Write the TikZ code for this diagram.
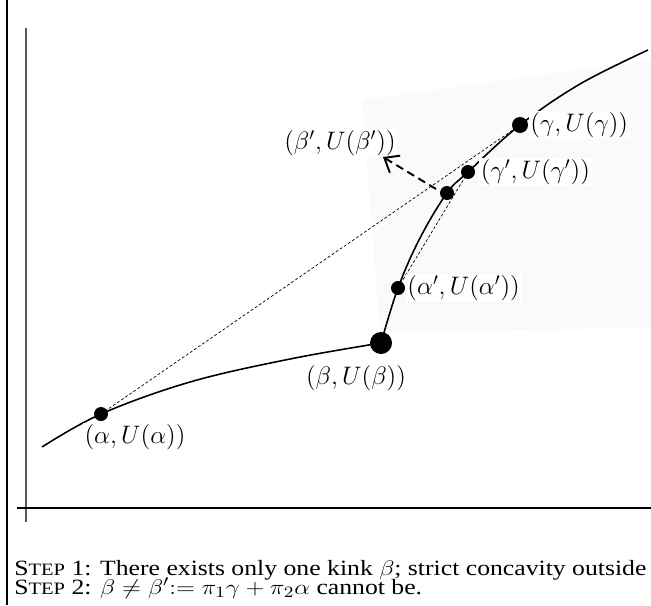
\documentclass[tikz,border=0pt]{standalone}
\usepackage{amsmath, amssymb}
\usepackage{fontspec}
\setmainfont{Liberation Serif}
\usetikzlibrary{arrows.meta, positioning}

\newcommand{\stepsc}[1]{S{\fontsize{9.9}{10}\selectfont TEP}~#1:}

\begin{document}
\begin{tikzpicture}[x=0.02cm, y=-0.02cm,
  dot/.style={circle, fill=black, inner sep=0pt, minimum size=#1},
  dot/.default=0.28cm,
  lbl/.style={fill=white, inner sep=1pt, font=\fontsize{14}{16}\selectfont},
  chord/.style={line width=0.4pt, dash pattern=on 1.6pt off 1.2pt},
  capline/.style={anchor=base west, inner sep=0pt, font=\fontsize{12.4}{12.4}\selectfont},
  curve/.style={line width=0.9pt}]
  \useasboundingbox (0,0) rectangle (651,605);

  % faint backdrop
  \fill[black!2] (362,100) -- (651,60) -- (651,328) -- (380,332) -- cycle;

  % === AXES ===
  \draw[line width=0.9pt] (7,0) -- (7,605);
  \draw[line width=0.8pt, gray!70!black] (26,28) -- (26,522);
  \draw[line width=0.8pt] (17,508) -- (651,508);

  % Graph of U, kink at beta
  \draw[curve] plot[smooth, tension=0.6] coordinates {(42,447) (101,414) (190,382) (290,359) (381,343)};
  \draw[curve] plot[smooth, tension=0.6] coordinates {(381,343) (398,288) (420,238) (447,193) (468,172) (520,125) (580,84) (648,50)};

  % points on the graph
  \node[dot] (a) at (101,414) {};
  \node[dot=0.44cm] (b) at (381,343) {};
  \node[dot] (ap) at (398,288) {};
  \node[dot] (m) at (447,193) {};
  \node[dot] (gp) at (468,172) {};
  \node[dot=0.32cm] (g) at (520,125) {};

  % chords
  \draw[chord] (a.center) -- (g.center);
  \draw[chord] (ap.center) -- (gp.center);

  % labels
  \node[lbl, right=0pt of g] (gl) {$(\gamma,U(\gamma))$};
  \node[lbl, right=2pt of gp] (gpl) {$(\gamma',U(\gamma'))$};
  \node[lbl, right=0pt of ap] (apl) {$(\alpha',U(\alpha'))$};
  \node[lbl] (bl) at (356,378) {$(\beta,U(\beta))$};
  \node[lbl] (al) at (135,437) {$(\alpha,U(\alpha))$};
  \node[lbl] (bpl) at (340,143) {$(\beta',U(\beta'))$};

  % beta' direction
  \coordinate (bp) at (436,189);
  \coordinate (tip) at (383,157);
  \draw[line width=1.1pt, dash pattern=on 4.5pt off 2.8pt,
        -{Straight Barb[length=2.5mm, width=4mm]}] (bp) -- (tip);

  % caption
  \node[capline] (cap1) at (14,575)
    {\scalebox{1.18}[1]{\stepsc{1} There exists only one kink $\beta$; strict concavity outside}};
  \node[capline] (cap2) at (14,594)
    {\scalebox{1.18}[1]{\stepsc{2} $\beta\neq\beta'{:=}\ \pi_1\gamma+\pi_2\alpha$ cannot be.}};
\end{tikzpicture}
\end{document}
